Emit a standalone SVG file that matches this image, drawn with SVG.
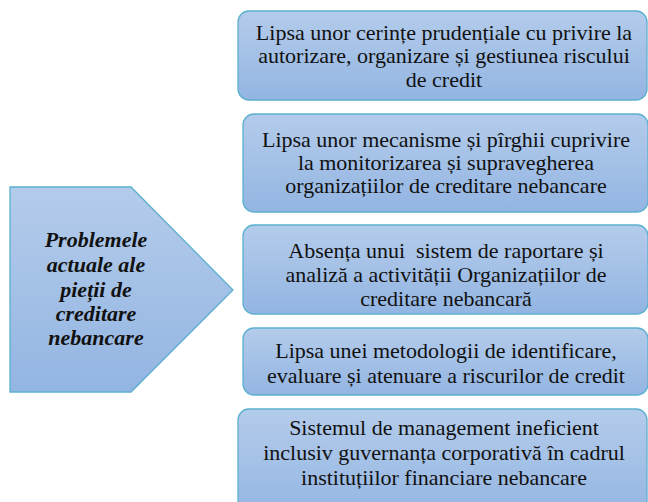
<svg xmlns="http://www.w3.org/2000/svg" width="648" height="502" viewBox="0 0 648 502">
<defs>
<linearGradient id="g" x1="0" y1="0" x2="0" y2="1">
<stop offset="0" stop-color="#b4cceb"/>
<stop offset="1" stop-color="#93b5e2"/>
</linearGradient>
<clipPath id="c3"><rect x="243" y="225" width="410" height="84"/></clipPath>
</defs>
<style>
.box{fill:url(#g);stroke:#5bb0cf;stroke-width:1.3}
.t{font-family:'Liberation Serif','Times New Roman',serif;font-size:22px;fill:#111;text-anchor:middle}
.h{font-family:'Liberation Serif','Times New Roman',serif;font-size:22px;font-weight:bold;font-style:italic;fill:#111;text-anchor:middle}
</style>
<g id="main">
<polygon class="box" points="10,187 131,187 233,290 131,392 10,392"/>
<text class="h" x="96" y="247">Problemele</text>
<text class="h" x="96" y="272">actuale ale</text>
<text class="h" x="96" y="297">pieții de</text>
<text class="h" x="96" y="321">creditare</text>
<text class="h" x="96" y="345">nebancare</text>
</g>
<g id="connectors"></g>
<g id="n1">
<rect class="box" x="238" y="11" width="409" height="89" rx="11"/>
<text class="t" x="444" y="40">Lipsa unor cerințe prudențiale cu privire la</text>
<text class="t" x="444" y="63">autorizare, organizare și gestiunea riscului</text>
<text class="t" x="444" y="87">de credit</text>
</g>
<g id="n2">
<rect class="box" x="243" y="114" width="405" height="98" rx="11"/>
<text class="t" x="446" y="147">Lipsa unor mecanisme și pîrghii cuprivire</text>
<text class="t" x="446" y="170">la monitorizarea și supravegherea</text>
<text class="t" x="446" y="193">organizațiilor de creditare nebancare</text>
</g>
<g id="n3">
<rect class="box" x="243" y="225" width="405" height="89" rx="11"/>
<g clip-path="url(#c3)">
<text class="t" x="446" y="258" xml:space="preserve">Absența unui  sistem de raportare și</text>
<text class="t" x="446" y="282">analiză a activității Organizațiilor de</text>
<text class="t" x="446" y="306">creditare nebancară</text>
</g>
</g>
<g id="n4">
<rect class="box" x="243" y="328" width="405" height="67" rx="11"/>
<text class="t" x="446" y="358">Lipsa unei metodologii de identificare,</text>
<text class="t" x="446" y="383">evaluare și atenuare a riscurilor de credit</text>
</g>
<g id="n5">
<rect class="box" x="238" y="409" width="409" height="110" rx="11"/>
<text class="t" x="444" y="435">Sistemul de management ineficient</text>
<text class="t" x="444" y="460">inclusiv guvernanța corporativă în cadrul</text>
<text class="t" x="444" y="485">instituțiilor financiare nebancare</text>
</g>
</svg>
